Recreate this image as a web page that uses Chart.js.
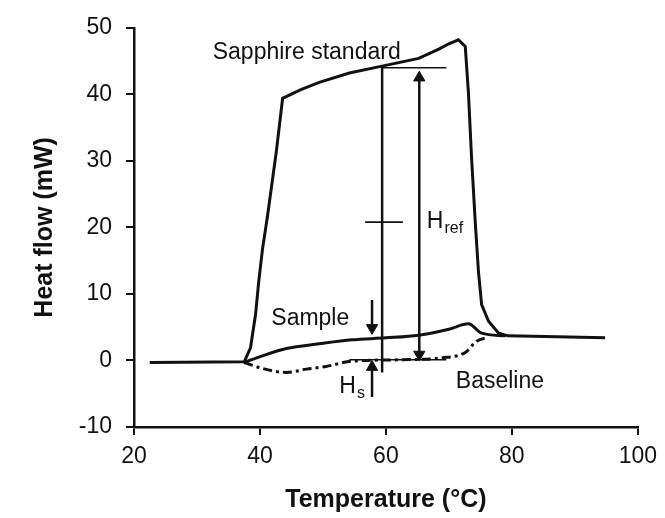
<!DOCTYPE html>
<html>
<head>
<meta charset="utf-8">
<script src="https://cdn.jsdelivr.net/npm/chart.js@4/dist/chart.umd.min.js"></script>
<style>
  html, body { margin: 0; padding: 0; background: #fff; }
  #wrap { width: 665px; height: 518px; position: relative; }
</style>
</head>
<body>
<div id="wrap"><canvas id="dsc"></canvas></div>
<script>
// DATOS
const tempSapphire = [22.5, 37.5, 38.5, 39.3, 39.8, 40.4, 41.2, 42.6, 43.6, 46.5, 49.4, 54.2, 59.2, 65.2, 68.4, 70.0, 71.5, 72.6, 73.1, 73.6, 74.2, 74.7, 75.2, 76.3, 77.9, 79.4, 94.8];
const flowSapphire = [-0.3, -0.2, 1.9, 6.9, 11.8, 16.7, 21.7, 31.4, 39.4, 40.7, 41.8, 43.2, 44.2, 45.4, 46.8, 47.6, 48.2, 47.2, 40.3, 30.5, 20.6, 13.3, 8.4, 5.9, 4.1, 3.7, 3.4];

const tempSample = [37.5, 40.4, 44.2, 49.4, 54.6, 60.0, 65.2, 70.0, 73.1, 75.2, 79.0];
const flowSample = [-0.3, 0.7, 1.8, 2.5, 3.1, 3.4, 3.8, 4.7, 5.5, 4.1, 3.7];

const tempBase = [37.5, 40.4, 44.2, 47.4, 50.5, 54.6, 62.1, 68.9, 72.6, 74.4, 76.3];
const flowBase = [-0.3, -1.2, -1.8, -1.3, -0.9, -0.1, 0.1, 0.4, 1.2, 2.9, 3.5];

const xTicks = [20, 40, 60, 80, 100];
const yTicks = [-10, 0, 10, 20, 30, 40, 50];

// lineas de referencia y flechas (unidades de datos)
const guideLines = [
  [[59.4, 44.1], [59.4, -1.8]],   // altura sapphire
  [[59.4, 44.0], [69.6, 44.0]],   // horizontal superior
  [[54.2, 0.1], [69.6, 0.1]],     // horizontal baseline
  [[56.7, 20.8], [62.7, 20.8]]    // marca corta
];
const arrowLines = [
  [[65.3, 42.3], [65.3, 1.0]],    // H ref
  [[57.8, 9.1], [57.8, 4.6]],     // Sample
  [[57.8, -0.9], [57.8, -5.5]]    // H s
];
const headsUp = [[65.3, 42.5], [57.8, -1.0]];
const headsDown = [[65.3, 0.9], [57.8, 4.9]];

const notes = [
  { text: "Sapphire standard", x: 32.5, y: 46.3 },
  { text: "Sample", x: 41.8, y: 6.3 },
  { text: "Baseline", x: 71.1, y: -3.2 },
  { text: "H", sub: "ref", x: 66.5, y: 20.9 },
  { text: "H", sub: "s", x: 52.6, y: -4.0 }
];

const pts = (xs, ys) => xs.map((x, i) => ({ x, y: ys[i] }));
const pairPts = (arr) => arr.map(p => ({ x: p[0], y: p[1] }));
const FONT = "'Liberation Sans', Arial, sans-serif";

const curve = (data, dash, smooth) => ({
  data, showLine: true, borderColor: "#111", borderWidth: 3, pointRadius: 0,
  borderDash: dash || [], cubicInterpolationMode: smooth ? "monotone" : "default", tension: 0
});
const straight = (data, w) => ({
  data, showLine: true, borderColor: "#111", borderWidth: w, pointRadius: 0
});

const datasets = [
  curve(pts(tempSapphire, flowSapphire), null, false),
  curve(pts(tempSample, flowSample), null, true),
  curve(pts(tempBase, flowBase), [9, 4, 3, 4], true),
  ...guideLines.map((g, i) => straight(pairPts(g), i === 0 ? 2.5 : 1.6)),
  ...arrowLines.map(a => straight(pairPts(a), 2.5)),
  { data: pairPts(headsUp), showLine: false, pointStyle: "triangle", pointRadius: 6.5,
    backgroundColor: "#111", borderColor: "#111", pointRotation: 0 },
  { data: pairPts(headsDown), showLine: false, pointStyle: "triangle", pointRadius: 6.5,
    backgroundColor: "#111", borderColor: "#111", pointRotation: 180 }
];

// TEXTOS SOBRE EL GRAFICO
const notesPlugin = {
  id: "notes",
  afterDatasetsDraw(chart) {
    const { ctx, scales: { x, y } } = chart;
    ctx.save();
    ctx.fillStyle = "#111";
    ctx.textBaseline = "middle";
    ctx.textAlign = "left";
    notes.forEach(n => {
      const px = x.getPixelForValue(n.x), py = y.getPixelForValue(n.y);
      ctx.font = "23px " + FONT;
      ctx.fillText(n.text, px, py);
      if (n.sub) {
        const w = ctx.measureText(n.text).width;
        ctx.font = "16px " + FONT;
        ctx.fillText(n.sub, px + w + 1, py + 7);
      }
    });
    ctx.restore();
  }
};

const axisCommon = {
  type: "linear",
  border: { display: true, color: "#111", width: 2.5 },
  grid: { drawOnChartArea: false, drawTicks: true, tickLength: 8, color: "#111", lineWidth: 2 },
  ticks: { color: "#111", font: { family: FONT, size: 23 } }
};

new Chart(document.getElementById("dsc"), {
  type: "scatter",
  data: { datasets },
  options: {
    responsive: true, maintainAspectRatio: false, animation: false,
    layout: { padding: { left: 0, right: 25, top: 20, bottom: 0 } },
    plugins: { legend: { display: false }, tooltip: { enabled: false } },
    scales: {
      x: {
        ...axisCommon, min: 20, max: 100,
        ticks: { ...axisCommon.ticks, padding: 8, maxRotation: 0 },
        afterBuildTicks: s => { s.ticks = xTicks.map(v => ({ value: v })); },
        afterFit: s => { s.height = 91; },
        title: { display: true, text: "Temperature (°C)", color: "#111",
                 font: { family: FONT, size: 25, weight: "bold" }, padding: { top: 0, bottom: 3 } }
      },
      y: {
        ...axisCommon, min: -10, max: 50,
        ticks: { ...axisCommon.ticks, padding: 14 },
        afterBuildTicks: s => { s.ticks = yTicks.map(v => ({ value: v })); },
        afterFit: s => { s.width = 134; },
        title: { display: true, text: "Heat flow (mW)", color: "#111",
                 font: { family: FONT, size: 25, weight: "bold" }, padding: { top: 30, bottom: 0 } }
      }
    }
  },
  plugins: [notesPlugin]
});
</script>
</body>
</html>
